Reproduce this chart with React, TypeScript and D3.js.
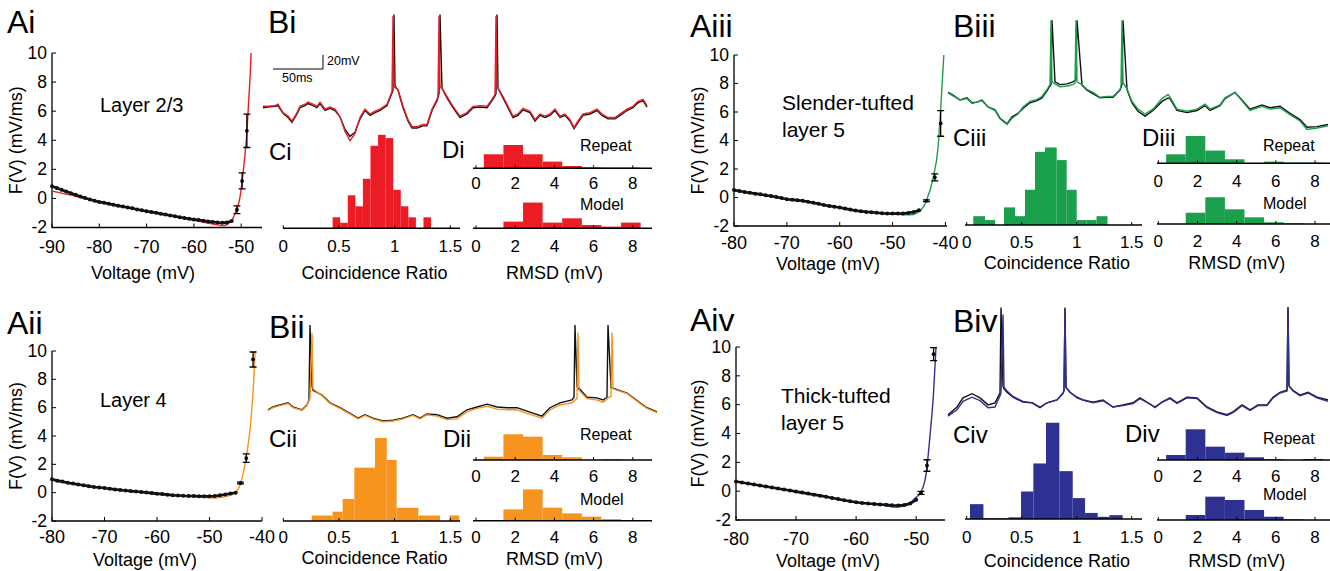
import React, { useEffect, useRef } from "react";
import * as d3 from "d3";

const FONT = "'Liberation Sans', Arial, Helvetica, sans-serif";

const RED = "#ed1c24";
const ORANGE = "#f7941d";
const GREEN = "#1a9f4b";
const BLUE = "#2e3192";

// ---------- A panels: F(V), black = measured (1 mV steps), colour = model fit ----------
const fvTicks = [-2, 0, 2, 4, 6, 8, 10];

const aiStart = -90;
const aiDots = [0.83, 0.72, 0.6, 0.47, 0.35, 0.25, 0.13, 0.03, -0.07, -0.16, -0.25, -0.3, -0.36, -0.43, -0.5, -0.56, -0.62, -0.68, -0.76, -0.82, -0.88, -0.93, -0.99, -1.05, -1.11, -1.17, -1.23, -1.29, -1.35, -1.4, -1.45, -1.49, -1.54, -1.58, -1.62, -1.66, -1.68, -1.65, -1.55];
const aiErr = [[-50.9, -0.78, 0.27], [-49.8, 1.2, 0.55], [-48.8, 4.65, 1.15]];
const aiFit = [[-90, 0.5], [-85, 0.15], [-80, -0.25], [-75, -0.6], [-70, -0.9], [-65, -1.2], [-60, -1.5], [-57, -1.7], [-55, -1.82], [-53.8, -1.87], [-52.8, -1.75], [-51.8, -1.4], [-50.9, -0.72], [-50.3, 0], [-49.8, 1.2], [-49.3, 2.7], [-48.8, 4.5], [-48.4, 6.8], [-48.1, 8.5], [-47.9, 10]];

const aiiStart = -80;
const aiiDots = [0.94, 0.85, 0.78, 0.7, 0.64, 0.58, 0.52, 0.46, 0.4, 0.36, 0.33, 0.28, 0.23, 0.19, 0.15, 0.11, 0.08, 0.05, 0.01, -0.03, -0.07, -0.1, -0.14, -0.18, -0.2, -0.22, -0.23, -0.24, -0.25, -0.26, -0.26, -0.24, -0.19, -0.13, -0.06, 0.0];
const aiiErr = [[-44.1, 0.68, 0.06], [-43, 2.44, 0.3], [-41.7, 9.4, 0.53]];
const aiiFit = [[-80, 0.87], [-75, 0.55], [-70, 0.3], [-65, 0.08], [-60, -0.1], [-55, -0.25], [-51.8, -0.33], [-49.2, -0.38], [-46.7, -0.26], [-45.1, 0], [-44.1, 0.63], [-43, 2.51], [-42.2, 4.74], [-41.6, 7.8], [-41.3, 10]];

const aiiiStart = -80;
const aiiiDots = [0.52, 0.46, 0.39, 0.33, 0.27, 0.22, 0.16, 0.11, 0.04, -0.04, -0.12, -0.15, -0.19, -0.23, -0.3, -0.37, -0.44, -0.52, -0.59, -0.65, -0.7, -0.78, -0.85, -0.92, -0.97, -1.01, -1.04, -1.07, -1.1, -1.12, -1.13, -1.13, -1.12, -1.08, -1.02, -0.9];
const aiiiErr = [[-43.6, -0.23, 0.06], [-42, 1.41, 0.25], [-40.9, 5.2, 0.9]];
const aiiiFit = [[-80, 0.47], [-75, 0.2], [-70, -0.13], [-65, -0.4], [-60, -0.72], [-55, -1.0], [-52, -1.12], [-49.9, -1.17], [-46.7, -1.22], [-44.8, -0.94], [-43.6, -0.23], [-42.3, 1.41], [-41.4, 3.5], [-40.8, 6.8], [-40.3, 10]];

const aivStart = -80;
const aivDots = [0.67, 0.6, 0.53, 0.46, 0.39, 0.32, 0.25, 0.18, 0.11, 0.04, -0.03, -0.1, -0.17, -0.24, -0.31, -0.39, -0.47, -0.55, -0.63, -0.7, -0.77, -0.82, -0.86, -0.89, -0.92, -0.95, -0.98, -0.99, -0.96, -0.85, -0.6];
const aivErr = [[-49.2, -0.12, 0.1], [-48.2, 1.78, 0.4], [-47.1, 9.5, 0.45]];
const aivFit = [[-80, 0.67], [-75, 0.3], [-70, -0.05], [-65, -0.4], [-60, -0.78], [-56, -0.95], [-53.3, -1.1], [-51.7, -1.0], [-50, -0.42], [-49.2, -0.07], [-48.3, 1.32], [-47.7, 3.85], [-47.1, 6.86], [-46.7, 10]];

// ---------- B panels: voltage traces (ms, mV), recorded (black) vs model ----------
const biTime = [0, 5, 12, 15, 20, 25, 29, 34, 37, 42, 45, 50, 54, 57, 62, 67, 72, 77, 82, 87, 92, 97, 102, 107, 112, 117, 124, 127, 129, 130, 131, 132, 135, 140, 145, 149, 154, 160, 164, 169, 174, 175, 176, 177, 179, 184, 190, 197, 204, 210, 217, 224, 229, 232, 233, 234, 235, 240, 245, 250, 255, 260, 267, 272, 277, 282, 287, 292, 297, 302, 307, 311, 315, 320, 327, 334, 339, 345, 352, 357, 364, 370, 375, 380, 384];
const biRec = [-61, -60, -59, -58, -69, -75, -82, -70, -61, -58, -55, -58, -61, -55, -65, -62, -65, -74, -92, -102, -96, -77, -65, -72, -68, -65, -58, -47, -40, -36, 72, -30, -36, -61, -80, -90, -90, -87, -87, -65, -51, -46, -41, 72, -33, -47, -61, -75, -70, -61, -60, -61, -51, -44, -41, 72, -33, -47, -61, -75, -72, -64, -68, -80, -72, -75, -72, -65, -75, -72, -80, -91, -82, -72, -70, -65, -72, -77, -77, -72, -65, -61, -54, -51, -60];
const biModel = [-59, -59, -58, -56, -68, -73, -80, -68, -59, -56, -53, -56, -59, -53, -63, -60, -63, -74, -95, -108, -98, -75, -63, -70, -66, -63, -56, -45, -38, 70, -30, -32, -35, -59, -78, -88, -88, -85, -85, -63, -49, -44, 70, -32, -33, -45, -59, -73, -68, -59, -58, -59, -49, -42, 70, -32, -33, -45, -59, -73, -70, -62, -66, -78, -70, -73, -70, -63, -73, -70, -78, -89, -80, -70, -68, -63, -70, -75, -75, -70, -63, -59, -52, -49, -58];

const biiTime = [0, 5, 12, 20, 25, 34, 39, 41, 42, 44, 45, 54, 62, 72, 82, 90, 97, 105, 115, 125, 135, 145, 152, 159, 169, 179, 189, 199, 209, 219, 229, 239, 249, 259, 274, 282, 292, 304, 306, 307, 309, 310, 311, 319, 329, 335, 339, 340, 343, 344, 345, 359, 372, 379, 389];
const biiRec = [-64, -60, -57, -54, -60, -64, -57, -50, 57, -30, -36, -43, -54, -61, -69, -76, -71, -76, -80, -79, -76, -71, -76, -70, -71, -76, -74, -64, -60, -56, -60, -61, -61, -66, -73, -61, -54, -50, -46, 57, -30, -34, -33, -46, -47, -50, -46, 57, -32, -33, -33, -40, -54, -61, -67];
const biiModel = [-65, -61, -58, -55, -61, -65, -58, -51, -48, 46, -34, -44, -55, -62, -70, -77, -72, -77, -81, -80, -77, -72, -77, -71, -73, -78, -77, -67, -62, -59, -63, -64, -64, -69, -76, -64, -57, -54, -52, -50, -48, 46, -36, -48, -50, -53, -49, -47, -45, 46, -34, -41, -55, -62, -68];

const biiiTime = [0, 5, 12, 19, 24, 29, 34, 40, 47, 52, 59, 64, 70, 75, 82, 89, 94, 99, 102, 103, 104, 107, 112, 119, 125, 127, 128, 129, 134, 139, 145, 152, 159, 165, 172, 173, 174, 175, 179, 184, 190, 197, 205, 214, 220, 222, 229, 239, 249, 257, 262, 272, 277, 287, 294, 302, 314, 322, 332, 342, 352, 359, 369, 380];
const biiiRec = [-49, -53, -60, -57, -64, -63, -60, -70, -74, -86, -94, -84, -79, -72, -64, -61, -57, -47, -40, -38, 54, -34, -38, -37, -34, -32, -31, 54, -39, -46, -51, -57, -56, -56, -46, -42, -38, 54, -45, -64, -76, -83, -75, -62, -57, -58, -75, -78, -75, -68, -75, -68, -58, -49, -60, -73, -67, -71, -69, -79, -88, -99, -98, -95];
const biiiModel = [-50, -54, -60, -58, -65, -63, -61, -70, -75, -87, -95, -86, -80, -70, -62, -59, -55, -45, -38, 54, -34, -37, -41, -40, -38, -36, 54, -34, -38, -45, -49, -56, -55, -55, -45, -40, 54, -35, -44, -62, -73, -80, -73, -58, -52, -56, -73, -76, -73, -66, -73, -67, -57, -49, -61, -75, -69, -73, -71, -81, -90, -102, -100, -97];

const bivTime = [0, 9, 15, 24, 32, 40, 47, 52, 53, 55, 56, 59, 65, 75, 84, 92, 99, 109, 115, 116, 117, 118, 122, 129, 135, 145, 155, 165, 175, 185, 192, 200, 207, 214, 222, 229, 239, 249, 259, 269, 279, 285, 294, 302, 310, 319, 325, 332, 339, 340, 341, 345, 352, 360, 369, 380];
const bivRec = [-81, -70, -57, -51, -57, -67, -64, -50, 72, -40, -44, -49, -56, -63, -64, -71, -64, -60, -50, -46, 72, -42, -49, -56, -60, -63, -60, -70, -67, -64, -57, -64, -70, -63, -57, -64, -56, -57, -70, -77, -81, -77, -67, -74, -67, -67, -56, -49, -46, 73, -40, -46, -53, -49, -56, -60];
const bivModel = [-83, -74, -62, -56, -61, -71, -70, -54, -50, 62, -42, -47, -55, -62, -64, -70, -64, -60, -51, -47, 70, -42, -49, -57, -60, -64, -61, -70, -68, -65, -58, -64, -71, -63, -58, -65, -57, -58, -71, -78, -82, -78, -68, -75, -68, -68, -57, -50, -47, 72, -40, -47, -54, -50, -57, -62];

// ---------- C panels: coincidence ratio histograms (bin edges, counts) ----------
const crTicks = [0, 0.5, 1, 1.5];
const ciEdges = [0.443, 0.511, 0.579, 0.647, 0.715, 0.783, 0.851, 0.919, 0.987, 1.055, 1.123, 1.191, 1.259, 1.327];
const ciCounts = [2, 1, 6, 4, 9, 15, 17, 16.4, 7, 4, 2, 0, 2];
const ciiEdges = [0.255, 0.443, 0.533, 0.638, 0.824, 0.929, 1.018, 1.213, 1.408, 1.492, 1.581];
const ciiCounts = [1, 1.7, 4, 9.7, 15.1, 11.1, 2.4, 1, 0, 1];
const ciiiEdges = [0.06, 0.167, 0.257, 0.339, 0.439, 0.53, 0.621, 0.712, 0.818, 0.909, 1.0, 1.09, 1.18, 1.28];
const ciiiCounts = [1.6, 0.9, 0, 3.2, 1.6, 6.4, 13.3, 14.1, 11.8, 6.4, 0.9, 0.9, 1.6];
const civEdges = [0.03, 0.152, 0.379, 0.494, 0.606, 0.721, 0.842, 0.964, 1.076, 1.191, 1.297, 1.418];
const civCounts = [2.7, 0.12, 0.3, 5, 10.1, 17.5, 8.7, 3.8, 1.1, 0.4, 0.7];

// ---------- D panels: RMSD histograms (fraction of cells) ----------
const rmsdTicks = [0, 2, 4, 6, 8];
const rmsdEdges = [0.4, 1.4, 2.4, 3.4, 4.4, 5.4, 6.4, 7.4, 8.4];
const diRepeat = [0.226, 0.376, 0.226, 0.108, 0.037, 0.016, 0.011, 0.011];
const diModel = [0, 0.108, 0.415, 0.092, 0.161, 0.053, 0.027, 0.092];
const diiRepeat = [0.053, 0.415, 0.376, 0.081, 0.044, 0, 0.016, 0];
const diiModel = [0, 0.182, 0.505, 0.21, 0.118, 0.065, 0.027, 0];
const diiiRepeat = [0.145, 0.44, 0.205, 0.065, 0.005, 0.027, 0.011, 0.011];
const diiiModel = [0, 0.182, 0.431, 0.237, 0.108, 0.027, 0.011, 0];
const divRepeat = [0.081, 0.495, 0.215, 0.118, 0.044, 0.011, 0, 0.016];
const divModel = [0, 0.081, 0.376, 0.323, 0.161, 0.053, 0.011, 0];

const App = () => {
  const svgRef = useRef<SVGSVGElement>(null);

  useEffect(() => {
    const svg = d3.select(svgRef.current);
    svg.selectAll("*").remove();
    const root = svg.append("g").attr("font-family", FONT).attr("fill", "#000");

    const text = (x, y, s, size, anchor = "start") =>
      root.append("text").attr("x", x).attr("y", y).attr("font-size", size).attr("text-anchor", anchor).text(s);

    // F(V) panel
    const drawFv = (p) => {
      const x = d3.scaleLinear().domain(p.xDomain).range([p.left, p.right]);
      const y = d3.scaleLinear().domain([-2, 10]).range([p.bottom, p.top]);
      const g = root.append("g");

      g.append("path")
        .attr("d", `M${x(p.xDomain[0])},${y(10)}V${y(-2)}H${x(p.xDomain[1])}`)
        .attr("fill", "none").attr("stroke", "#000").attr("stroke-width", 1.3);

      p.xTicks.forEach((t) => {
        g.append("line").attr("x1", x(t)).attr("x2", x(t)).attr("y1", y(-2)).attr("y2", y(-2) - 4).attr("stroke", "#000");
        g.append("text").attr("x", x(t)).attr("y", p.tickBase).attr("text-anchor", "middle").attr("font-size", 18).text(t);
      });
      fvTicks.forEach((t) => {
        g.append("line").attr("x1", p.left).attr("x2", p.left + 4).attr("y1", y(t)).attr("y2", y(t)).attr("stroke", "#000");
        g.append("text").attr("x", p.left - 5).attr("y", y(t)).attr("dy", "0.33em").attr("text-anchor", "end").attr("font-size", 17.5).text(t);
      });

      g.append("text")
        .attr("transform", `translate(${p.yTitleX},${(y(10) + y(-2)) / 2}) rotate(-90)`)
        .attr("text-anchor", "middle").attr("font-size", 18).text("F(V) (mV/ms)");
      g.append("text").attr("x", p.titleX).attr("y", p.titleBase).attr("text-anchor", "middle").attr("font-size", 18).text("Voltage (mV)");

      const fitLine = d3.line().x((d) => x(d[0])).y((d) => y(d[1])).curve(d3.curveMonotoneX);
      g.append("path").attr("d", fitLine(p.fit)).attr("fill", "none").attr("stroke", p.color).attr("stroke-width", 1.4);

      const pts = p.dots.map((v, i) => [p.start + i, v]);
      const dotLine = d3.line().x((d) => x(d[0])).y((d) => y(d[1]));
      g.append("path").attr("d", dotLine(pts)).attr("fill", "none").attr("stroke", "#111").attr("stroke-width", 2.6);
      g.selectAll("circle.dot").data(pts).enter().append("circle")
        .attr("cx", (d) => x(d[0])).attr("cy", (d) => y(d[1])).attr("r", 2).attr("fill", "#111");

      p.err.forEach(([v, m, e]) => {
        const cx = x(v);
        g.append("path")
          .attr("d", `M${cx},${y(m - e)}V${y(m + e)}M${cx - 3.5},${y(m - e)}h7M${cx - 3.5},${y(m + e)}h7`)
          .attr("stroke", "#000").attr("stroke-width", 1.3).attr("fill", "none");
        g.append("circle").attr("cx", cx).attr("cy", y(m)).attr("r", 1.9).attr("fill", "#000");
      });

      text(p.labelX, p.labelY, p.label, 32);
      p.note.forEach((s, i) => text(p.noteX, p.noteY + i * 27, s, p.noteSize));
    };

    // voltage trace panel
    const drawTrace = (p) => {
      const x = d3.scaleLinear().domain([0, d3.max(p.time)]).range([p.x0, p.x1]);
      const y = d3.scaleLinear().domain([-60, -40]).range([p.yRef, p.yRef - 14]);
      const line = d3.line().x((d, i) => x(p.time[i])).y((d) => y(d));
      root.append("path").attr("d", line(p.rec)).attr("fill", "none").attr("stroke", "#111").attr("stroke-width", 1.4);
      root.append("path").attr("d", line(p.model)).attr("fill", "none").attr("stroke", p.color).attr("stroke-width", 1.4);
      text(p.labelX, p.labelY, p.label, 32);
      if (p.scaleBar) {
        const bx = x(10);
        const by = p.scaleBar;
        const w = x(50) - x(0);
        const h = y(-60) - y(-40);
        root.append("path").attr("d", `M${bx},${by}h${w}v${-h}`).attr("fill", "none").attr("stroke", "#000").attr("stroke-width", 1);
        text(bx + w + 4, by - 4, "20mV", 12.5);
        text(bx + 9, by + 13, "50ms", 12.5);
      }
    };

    // coincidence ratio histogram
    const drawC = (p) => {
      const x = d3.scaleLinear().domain([0, 1.5]).range([p.x0, p.x15]);
      const y = d3.scaleLinear().domain([0, 20]).range([p.axisY, p.axisY - 110]);
      const g = root.append("g");
      g.selectAll("rect").data(p.counts).enter().append("rect")
        .attr("x", (d, i) => x(p.edges[i]))
        .attr("width", (d, i) => x(p.edges[i + 1]) - x(p.edges[i]))
        .attr("y", (d) => y(d))
        .attr("height", (d) => y(0) - y(d))
        .attr("fill", p.color);
      g.append("line").attr("x1", p.axis0).attr("x2", p.axis1).attr("y1", p.axisY).attr("y2", p.axisY).attr("stroke", "#000").attr("stroke-width", 1.5);
      crTicks.forEach((t) => {
        g.append("line").attr("x1", x(t)).attr("x2", x(t)).attr("y1", p.axisY).attr("y2", p.axisY - 3).attr("stroke", "#000");
        g.append("text").attr("x", x(t)).attr("y", p.tickBase).attr("text-anchor", "middle").attr("font-size", 17).text(t);
      });
      g.append("text").attr("x", x(0.82)).attr("y", p.titleBase).attr("text-anchor", "middle").attr("font-size", 18).text("Coincidence Ratio");
      text(p.labelX, p.labelY, p.label, 24);
    };

    // RMSD histograms (repeat + model)
    const drawD = (p) => {
      const x = d3.scaleLinear().domain([0, 8]).range([p.x0, p.x8]);
      const g = root.append("g");
      [
        [p.repY, p.repeat, p.repTick],
        [p.modY, p.model, p.modTick],
      ].forEach(([ay, vals, tb]) => {
        const y = d3.scaleLinear().domain([0, 1]).range([ay, ay - 62]);
        g.append("g").selectAll("rect").data(vals).enter().append("rect")
          .attr("x", (d, i) => x(rmsdEdges[i]))
          .attr("width", (d, i) => x(rmsdEdges[i + 1]) - x(rmsdEdges[i]))
          .attr("y", (d) => y(d))
          .attr("height", (d) => y(0) - y(d))
          .attr("fill", p.color);
        g.append("line").attr("x1", p.axis0).attr("x2", p.axis1).attr("y1", ay).attr("y2", ay).attr("stroke", "#000").attr("stroke-width", 1.5);
        rmsdTicks.forEach((t) => {
          g.append("line").attr("x1", x(t)).attr("x2", x(t)).attr("y1", ay).attr("y2", ay - 3).attr("stroke", "#000");
          g.append("text").attr("x", x(t)).attr("y", tb).attr("text-anchor", "middle").attr("font-size", 17).text(t);
        });
      });
      text(p.textX, p.repTextY, "Repeat", 16);
      text(p.textX, p.modTextY, "Model", 16);
      g.append("text").attr("x", x(4)).attr("y", p.titleBase).attr("text-anchor", "middle").attr("font-size", 18).text("RMSD (mV)");
      text(p.labelX, p.labelY, p.label, 24);
    };

    // ---- layer 2/3 ----
    drawFv({
      xDomain: [-90, -45.6], left: 52, right: 262, top: 53, bottom: 227.5,
      xTicks: [-90, -80, -70, -60, -50], tickBase: 253, titleBase: 279, titleX: 143, yTitleX: 22,
      start: aiStart, dots: aiDots, err: aiErr, fit: aiFit, color: RED,
      label: "Ai", labelX: 7, labelY: 33, note: ["Layer 2/3"], noteX: 100, noteY: 112, noteSize: 20,
    });
    drawTrace({ time: biTime, rec: biRec, model: biModel, color: RED, x0: 263, x1: 647, yRef: 107, label: "Bi", labelX: 268, labelY: 33, scaleBar: 69 });
    drawC({ edges: ciEdges, counts: ciCounts, color: RED, x0: 283.3, x15: 450.3, axis0: 283, axis1: 460, axisY: 228.3, tickBase: 252, titleBase: 279, label: "Ci", labelX: 269, labelY: 160 });
    drawD({
      repeat: diRepeat, model: diModel, color: RED, x0: 476, x8: 632.8, axis0: 473, axis1: 652,
      repY: 168.3, modY: 228.3, repTick: 189, modTick: 252, titleBase: 279,
      textX: 580, repTextY: 150.7, modTextY: 210, label: "Di", labelX: 442, labelY: 158,
    });

    // ---- layer 4 ----
    drawFv({
      xDomain: [-80, -40], left: 52, right: 262, top: 351, bottom: 521,
      xTicks: [-80, -70, -60, -50, -40], tickBase: 543, titleBase: 566, titleX: 145, yTitleX: 22,
      start: aiiStart, dots: aiiDots, err: aiiErr, fit: aiiFit, color: ORANGE,
      label: "Aii", labelX: 7, labelY: 334, note: ["Layer 4"], noteX: 100, noteY: 407, noteSize: 20,
    });
    drawTrace({ time: biiTime, rec: biiRec, model: biiModel, color: ORANGE, x0: 268, x1: 657, yRef: 407, label: "Bii", labelX: 269, labelY: 338 });
    drawC({ edges: ciiEdges, counts: ciiCounts, color: ORANGE, x0: 283.3, x15: 450.3, axis0: 283, axis1: 460, axisY: 521, tickBase: 543, titleBase: 564, label: "Cii", labelX: 269, labelY: 447 });
    drawD({
      repeat: diiRepeat, model: diiModel, color: ORANGE, x0: 476, x8: 632.8, axis0: 473, axis1: 652,
      repY: 460, modY: 520.7, repTick: 482, modTick: 543, titleBase: 565,
      textX: 580, repTextY: 440, modTextY: 505, label: "Dii", labelX: 443, labelY: 447,
    });

    // ---- slender-tufted layer 5 ----
    drawFv({
      xDomain: [-80, -39.7], left: 734, right: 947, top: 55, bottom: 226,
      xTicks: [-80, -70, -60, -50, -40], tickBase: 249, titleBase: 270, titleX: 828, yTitleX: 704,
      start: aiiiStart, dots: aiiiDots, err: aiiiErr, fit: aiiiFit, color: GREEN,
      label: "Aiii", labelX: 690, labelY: 37, note: ["Slender-tufted", "layer 5"], noteX: 782, noteY: 110, noteSize: 21,
    });
    drawTrace({ time: biiiTime, rec: biiiRec, model: biiiModel, color: GREEN, x0: 948, x1: 1328, yRef: 100, label: "Biii", labelX: 953, labelY: 37 });
    drawC({ edges: ciiiEdges, counts: ciiiCounts, color: GREEN, x0: 966.7, x15: 1131.7, axis0: 965, axis1: 1142, axisY: 225, tickBase: 248, titleBase: 269, label: "Ciii", labelX: 953, labelY: 146 });
    drawD({
      repeat: diiiRepeat, model: diiiModel, color: GREEN, x0: 1158.3, x8: 1315, axis0: 1157, axis1: 1330,
      repY: 163.3, modY: 224, repTick: 187, modTick: 247, titleBase: 269,
      textX: 1263, repTextY: 150.7, modTextY: 209.3, label: "Diii", labelX: 1142, labelY: 146,
    });

    // ---- thick-tufted layer 5 ----
    drawFv({
      xDomain: [-80, -45.2], left: 736, right: 945, top: 347, bottom: 520,
      xTicks: [-80, -70, -60, -50], tickBase: 545, titleBase: 567, titleX: 828, yTitleX: 704,
      start: aivStart, dots: aivDots, err: aivErr, fit: aivFit, color: BLUE,
      label: "Aiv", labelX: 690, labelY: 331, note: ["Thick-tufted", "layer 5"], noteX: 781, noteY: 403, noteSize: 21,
    });
    drawTrace({ time: bivTime, rec: bivRec, model: bivModel, color: BLUE, x0: 948, x1: 1328, yRef: 400, label: "Biv", labelX: 953, labelY: 332 });
    drawC({ edges: civEdges, counts: civCounts, color: BLUE, x0: 966.7, x15: 1131.7, axis0: 965, axis1: 1142, axisY: 519, tickBase: 543, titleBase: 567, label: "Civ", labelX: 953, labelY: 443 });
    drawD({
      repeat: divRepeat, model: divModel, color: BLUE, x0: 1158.3, x8: 1315, axis0: 1157, axis1: 1330,
      repY: 460, modY: 520, repTick: 482, modTick: 543, titleBase: 567,
      textX: 1263, repTextY: 444, modTextY: 500, label: "Div", labelX: 1125, labelY: 442,
    });
  }, []);

  return (
    <svg
      ref={svgRef}
      width={1330}
      height={571}
      style={{ position: "absolute", left: 0, top: 0, background: "#fff" }}
    ></svg>
  );
};

export default App;
